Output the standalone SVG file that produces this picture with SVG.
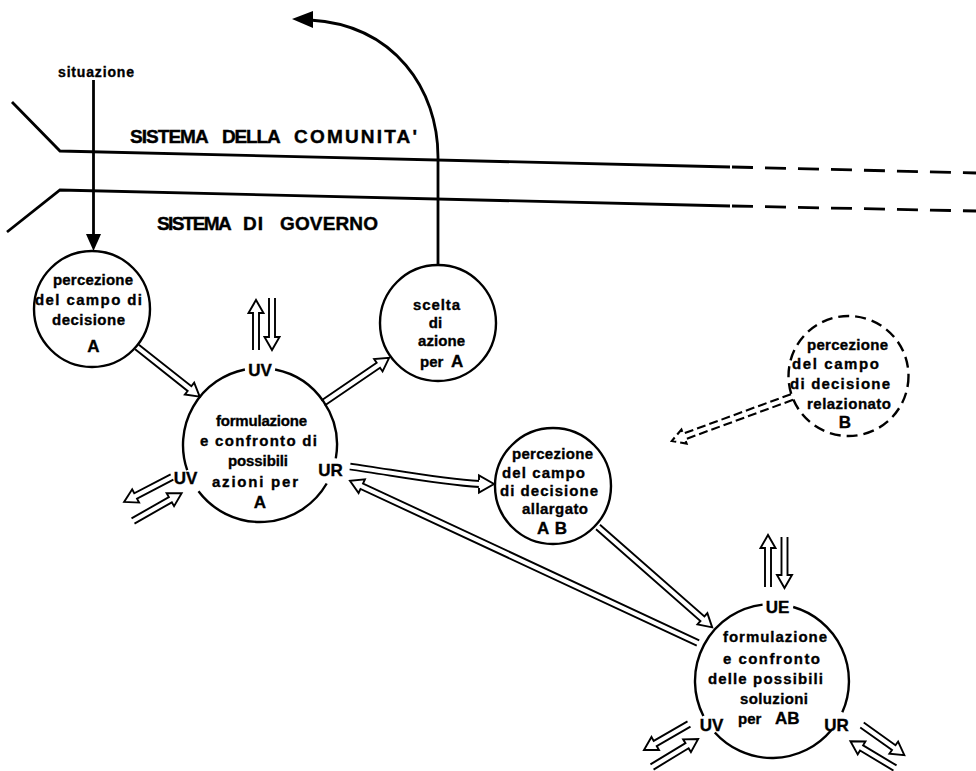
<svg xmlns="http://www.w3.org/2000/svg" width="976" height="771" viewBox="0 0 976 771">
<style>
.bg{fill:#fff}
.ln{fill:none;stroke:#000;stroke-width:2.8;stroke-linejoin:miter}
.dl{fill:none;stroke:#000;stroke-width:2.8;stroke-dasharray:21 12}
.cir{fill:none;stroke:#000;stroke-width:2.4}
.cird{fill:none;stroke:#000;stroke-width:2.4;stroke-dasharray:11 6}
.ar{fill:#fff;stroke:#000;stroke-width:1.9;stroke-linejoin:miter}
.ard{fill:#fff;stroke:#000;stroke-width:2.1;stroke-dasharray:9 4}
.shb{fill:none;stroke:#000;stroke-width:7.8}
.shw{fill:none;stroke:#fff;stroke-width:4}
.t{font-family:"Liberation Sans",Arial,Helvetica,sans-serif;font-weight:bold;font-size:15px;text-anchor:middle;fill:#000;stroke:#000;stroke-width:0.35}
.ts{text-anchor:start}
.lb{font-size:17px}
.hd{font-family:"Liberation Sans",Arial,Helvetica,sans-serif;font-weight:bold;font-size:19px;fill:#000;stroke:#000;stroke-width:0.4}
</style>
<rect class="bg" x="0" y="0" width="976" height="771"/>

<g id="systems">
  <path class="ln" d="M12 102L60 151L730 167"/>
  <path class="dl" d="M732 167L976 173"/>
  <path class="ln" d="M7 232L60 190L730 206"/>
  <path class="dl" d="M732 206L976 211"/>
  <text class="hd" y="143"><tspan x="130" textLength="78">SISTEMA</tspan> <tspan x="222" textLength="58">DELLA</tspan> <tspan x="294" textLength="123">COMUNITA'</tspan></text>
  <text class="hd" y="230"><tspan x="157" textLength="74">SISTEMA</tspan> <tspan x="243" textLength="20">DI</tspan> <tspan x="280" textLength="98">GOVERNO</tspan></text>
</g>

<g id="connectors">
  <!-- situazione input -->
  <text class="t" x="96" y="77" textLength="76" style="font-size:14px">situazione</text>
  <line class="ln" x1="93.5" y1="80" x2="93.5" y2="236"/>
  <polygon points="86,234 101,234 93.5,251" fill="#000"/>
  <!-- output of scelta -->
  <path class="ln" d="M438 265L438 157C438 90 395 25 310 20"/>
  <polygon points="292,19 313,11 313,28" fill="#000"/>
  <!-- A to main -->
  <path class="ar" transform="translate(137,347) rotate(38.4)" d="M0 -3H67V-7.5L80 0L67 7.5V3H0"/>
  <!-- main to scelta -->
  <path class="ar" transform="translate(323,403) rotate(-34.3)" d="M0 -3H67V-7.5L80 0L67 7.5V3H0"/>
  <!-- UV top pair -->
  <path class="ar" transform="translate(256,350) rotate(-90)" d="M0 -3H37V-7.5L50 0L37 7.5V3H0"/>
  <path class="ar" transform="translate(272,298) rotate(90)" d="M0 -3H39V-7.5L52 0L39 7.5V3H0"/>
  <!-- UV left pair -->
  <path class="ar" transform="translate(172,477) rotate(152.5)" d="M0 -3H41V-7.5L54 0L41 7.5V3H0"/>
  <path class="ar" transform="translate(133,521) rotate(-29.7)" d="M0 -3H43V-7.5L56 0L43 7.5V3H0"/>
  <!-- UR to AB (curved) -->
  <path class="shb" d="M350 466.5C390 472 440 482 479 484"/>
  <path class="shw" d="M349 466.5C390 472 440 482 480 484"/>
  <path class="ar" transform="translate(494,484)" d="M-15 -3.9V-8.5L0 0L-15 8.5V3.9"/>
  <!-- long return arrow to UR -->
  <path class="ar" transform="translate(698,643) rotate(-155)" d="M0 -3H371V-7.5L384 0L371 7.5V3H0"/>
  <!-- AB to bottom -->
  <path class="ar" transform="translate(598,527) rotate(41.3)" d="M0 -3H139V-7.5L152 0L139 7.5V3H0"/>
  <!-- dashed from B -->
  <path class="ard" transform="translate(792,397) rotate(159.9)" d="M0 -3H115V-7.5L128 0L115 7.5V3H0"/>
  <!-- UE pair -->
  <path class="ar" transform="translate(768,587) rotate(-90)" d="M0 -3H39V-7.5L52 0L39 7.5V3H0"/>
  <path class="ar" transform="translate(784.5,537) rotate(90)" d="M0 -3H38V-7.5L51 0L38 7.5V3H0"/>
  <!-- bottom UV pair -->
  <path class="ar" transform="translate(689,724) rotate(150)" d="M0 -3H39V-7.5L52 0L39 7.5V3H0"/>
  <path class="ar" transform="translate(652,767) rotate(-31.3)" d="M0 -3H41V-7.5L54 0L41 7.5V3H0"/>
  <!-- bottom UR pair -->
  <path class="ar" transform="translate(862,725) rotate(35.5)" d="M0 -3H39V-7.5L52 0L39 7.5V3H0"/>
  <path class="ar" transform="translate(895,768) rotate(211)" d="M0 -3H39V-7.5L52 0L39 7.5V3H0"/>
</g>

<g id="nodeA">
  <circle class="cir" cx="92" cy="309" r="58"/>
  <text class="t" x="93" y="285" textLength="80">percezione</text>
  <text class="t" x="88.5" y="305" textLength="107">del campo di</text>
  <text class="t" x="88.5" y="325" textLength="73">decisione</text>
  <text class="t lb" x="93.5" y="352">A</text>
</g>

<g id="nodeMain">
  <path class="cir" d="M275.1 369.5A77 77 0 0 1 335.8 458.4M326.7 483.5A77 77 0 0 1 198.5 491.3M187.2 470.1A77 77 0 0 1 244.9 369.5"/>
  <text class="t lb" x="260" y="376">UV</text>
  <text class="t" x="261.5" y="426" textLength="91">formulazione</text>
  <text class="t" x="258.5" y="446" textLength="117">e confronto di</text>
  <text class="t" x="258" y="466" textLength="60">possibili</text>
  <text class="t lb" x="185.5" y="484">UV</text>
  <text class="t" x="255" y="487" textLength="86">azioni per</text>
  <text class="t lb" x="330.5" y="476">UR</text>
  <text class="t lb" x="260" y="508">A</text>
</g>

<g id="nodeScelta">
  <circle class="cir" cx="438" cy="323" r="58"/>
  <text class="t" x="436.5" y="310" textLength="47">scelta</text>
  <text class="t" x="435.5" y="328">di</text>
  <text class="t" x="441.5" y="346" textLength="47">azione</text>
  <text class="t ts" x="420" y="367">per <tspan class="lb" x="451">A</tspan></text>
</g>

<g id="nodeAB">
  <circle class="cir" cx="553" cy="486" r="58"/>
  <text class="t" x="552.5" y="459" textLength="81">percezione</text>
  <text class="t" x="543.5" y="478" textLength="83">del campo</text>
  <text class="t" x="549" y="496" textLength="98">di decisione</text>
  <text class="t" x="555" y="514" textLength="66">allargato</text>
  <text class="t lb" x="552" y="534" textLength="30">AB</text>
</g>

<g id="nodeB">
  <circle class="cird" cx="848.5" cy="376" r="60"/>
  <text class="t" x="847.5" y="350" textLength="81">percezione</text>
  <text class="t" x="835.5" y="369" textLength="87">del campo</text>
  <text class="t" x="840" y="389" textLength="100">di decisione</text>
  <text class="t" x="849" y="409" textLength="84">relazionato</text>
  <text class="t lb" x="845" y="428">B</text>
</g>

<g id="nodeAB2">
  <path class="cir" d="M793.2 607A77 77 0 0 1 842.3 712.3M831 730.5A77 77 0 0 1 714.8 732.5M703.4 716A77 77 0 0 1 762.6 604.6"/>
  <text class="t lb" x="777.5" y="613">UE</text>
  <text class="t" x="775" y="642" textLength="104">formulazione</text>
  <text class="t" x="771.5" y="664" textLength="97">e confronto</text>
  <text class="t" x="765.5" y="684" textLength="115">delle possibili</text>
  <text class="t" x="774" y="704" textLength="68">soluzioni</text>
  <text class="t ts" x="738" y="724">per <tspan class="lb" x="775">AB</tspan></text>
  <text class="t lb" x="711.5" y="731">UV</text>
  <text class="t lb" x="836.5" y="731">UR</text>
</g>
</svg>
